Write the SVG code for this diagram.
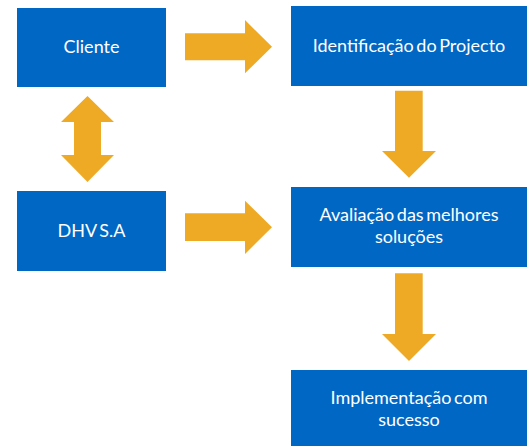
<svg xmlns="http://www.w3.org/2000/svg" width="531" height="446" viewBox="0 0 531 446">
<style>
.box{fill:#0067c5}
.arr{fill:#efaa25}
.t{font-family:Lato,"Liberation Sans",sans-serif;font-size:18px;word-spacing:-2px;fill:#ffffff;text-anchor:middle}
</style>
<rect width="531" height="446" fill="#ffffff"/>
<g id="cliente"><rect class="box" x="17" y="8" width="149" height="79"/><text class="t" x="91.5" y="52.5">Cliente</text></g>
<g id="dhv"><rect class="box" x="17" y="191" width="149" height="80"/><text class="t" x="91.5" y="236.5">DHV S.A</text></g>
<g id="identificacao"><rect class="box" x="291" y="6" width="236" height="80"/><text class="t" x="409" y="51.5">Identificação do Projecto</text></g>
<g id="avaliacao"><rect class="box" x="291" y="187" width="236" height="80"/><text class="t" x="409" y="220.5">Avaliação das melhores</text><text class="t" x="409" y="242.5">soluções</text></g>
<g id="implementacao"><rect class="box" x="291" y="370" width="236" height="76"/><text class="t" x="409" y="404">Implementação com</text><text class="t" x="409" y="425.5">sucesso</text></g>
<g id="connectors">
<polygon class="arr" points="185,33.3 245,33.3 245,20 272,46.7 245,73.3 245,60.3 185,60.3"/>
<polygon class="arr" points="185,213.3 245,213.3 245,200.7 272,227.3 245,254 245,241 185,241"/>
<polygon class="arr" points="87.5,96 114,122 101,122 101,155 114,155 87.5,182 61,155 74,155 74,122 61,122"/>
<polygon class="arr" points="395,90.7 422.7,90.7 422.7,151 436,151 409,177.7 382,151 395,151"/>
<polygon class="arr" points="395,273.3 422.7,273.3 422.7,334 436,334 409,361 382,334 395,334"/>
</g>
</svg>
